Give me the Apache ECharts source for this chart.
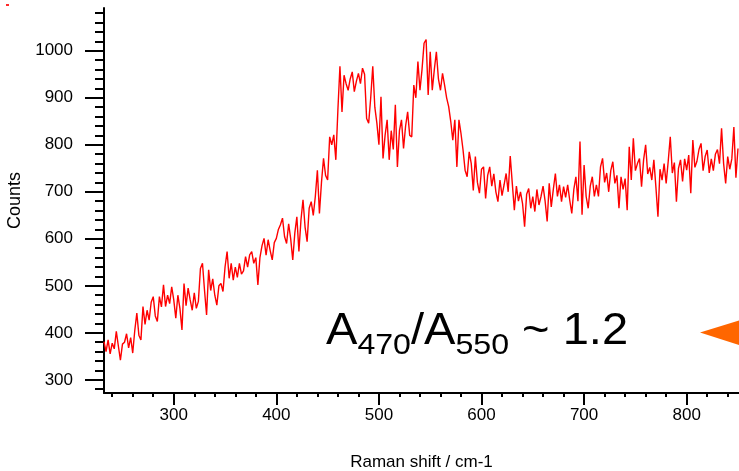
<!DOCTYPE html>
<html><head><meta charset="utf-8">
<script src="https://cdn.jsdelivr.net/npm/echarts@6/dist/echarts.min.js"></script>
<style>html,body{margin:0;padding:0;background:#fff}#c{width:739px;height:471px}</style>
</head><body><div id="c"></div>
<script>
const ramanShift = [
232,234,236,238,240,242,244,246,248,250,
252,254,256,258,260,262,264,266,268,270,
272,274,276,278,280,282,284,286,288,290,
292,294,296,298,300,302,304,306,308,310,
312,314,316,318,320,322,324,326,328,330,
332,334,336,338,340,342,344,346,348,350,
352,354,356,358,360,362,364,366,368,370,
372,374,376,378,380,382,384,386,388,390,
392,394,396,398,400,402,404,406,408,410,
412,414,416,418,420,422,424,426,428,430,
432,434,436,438,440,442,444,446,448,450,
452,454,456,458,460,462,464,466,468,470,
472,474,476,478,480,482,484,486,488,490,
492,494,496,498,500,502,504,506,508,510,
512,514,516,518,520,522,524,526,528,530,
532,534,536,538,540,542,544,546,548,550,
552,554,556,558,560,562,564,566,568,570,
572,574,576,578,580,582,584,586,588,590,
592,594,596,598,600,602,604,606,608,610,
612,614,616,618,620,622,624,626,628,630,
632,634,636,638,640,642,644,646,648,650,
652,654,656,658,660,662,664,666,668,670,
672,674,676,678,680,682,684,686,688,690,
692,694,696,698,700,702,704,706,708,710,
712,714,716,718,720,722,724,726,728,730,
732,734,736,738,740,742,744,746,748,750,
752,754,756,758,760,762,764,766,768,770,
772,774,776,778,780,782,784,786,788,790,
792,794,796,798,800,802,804,806,808,810,
812,814,816,818,820,822,824,826,828,830,
832,834,836,838,840,842,844,846,848,850
];
const counts = [
381,360,385,355,378,366,403,372,342,376,
380,398,368,390,357,405,442,395,385,456,
418,448,427,465,477,436,424,477,455,502,
456,480,462,498,470,431,480,452,406,505,
458,495,470,448,485,452,467,537,548,490,
438,534,490,515,480,459,500,505,488,540,
573,516,548,512,540,518,548,525,532,562,
540,566,573,548,560,502,560,585,601,565,
598,575,555,592,601,620,630,644,605,590,
632,600,555,612,647,573,640,683,625,594,
665,679,650,690,746,654,720,771,735,725,
817,800,821,768,874,967,870,948,930,916,
940,955,913,935,952,930,963,950,856,846,
900,967,880,846,800,902,771,820,853,768,
830,790,885,753,830,853,792,840,870,820,
817,927,900,977,916,960,1016,1024,906,998,
916,960,998,940,916,952,927,900,881,850,
810,853,753,853,824,789,746,732,785,760,
703,775,720,697,748,753,686,735,753,712,
738,700,679,725,692,715,739,700,776,718,
661,712,680,700,675,626,695,707,665,690,
658,705,672,690,712,680,637,718,668,705,
739,690,715,679,711,688,715,682,654,705,
732,680,807,651,757,690,665,712,732,690,
715,690,753,771,720,740,700,745,764,718,
735,665,732,705,728,661,796,725,814,745,
760,771,711,768,800,738,752,725,768,710,
647,748,725,760,718,765,817,740,762,679,
750,768,722,770,746,778,697,810,752,765,
790,803,745,775,789,740,770,745,780,790,
760,835,760,718,775,748,770,838,730,792
];
const xMajorTicks = [300,400,500,600,700,800];
const xMinorTicks = [240,260,280,300,320,340,360,380,400,420,440,460,480,500,520,540,560,580,600,620,640,660,680,700,720,740,760,780,800,820,840];
const yMajorTicks = [300,400,500,600,700,800,900,1000];
const yMinorTicks = [280,300,320,340,360,380,400,420,440,460,480,500,520,540,560,580,600,620,640,660,680,700,720,740,760,780,800,820,840,860,880,900,920,940,960,980,1000,1020,1040,1060,1080];
const xName = 'Raman shift / cm-1';
const yName = 'Counts';
const ratioParts = ['A', '470', '/A', '550', ' ~ 1.2'];

const FONT = 'Arial, "Liberation Sans", Helvetica, sans-serif';
const chart = echarts.init(document.getElementById('c'), null, {renderer: 'canvas'});
const gridRect = {left: 104, right: 0, top: 8, bottom: 78, containLabel: false, outerBoundsMode: 'none'};
const xRange = {min: 232, max: 851};
const yRange = {min: 272, max: 1091};

const mainSize = 44, subSize = 30, k = 0.31;
const adv = {A: 0.667, d: 0.556, slash: 0.278};
const p1 = adv.A * mainSize;
const p2 = p1 + 3 * adv.d * subSize;
const p3 = p2 + (adv.slash + adv.A) * mainSize;
const p4 = p3 + 3 * adv.d * subSize;
const mainY = 345 - k * mainSize, subY = 355 - k * subSize;
function txt(t, x, size, y) {
  return {type: 'text', x: x, y: y, style: {text: t, font: size + 'px ' + FONT, fill: '#000', align: 'left', verticalAlign: 'middle'}};
}

chart.setOption({
  animation: false,
  backgroundColor: '#fff',
  grid: [Object.assign({}, gridRect), Object.assign({}, gridRect)],
  xAxis: [
    Object.assign({type: 'value', gridIndex: 0,
      axisLine: {show: true, onZero: false, lineStyle: {color: '#000', width: 2}},
      axisTick: {show: true, customValues: xMajorTicks, length: 12, lineStyle: {color: '#000', width: 2}},
      axisLabel: {customValues: xMajorTicks, margin: 14, color: '#000', fontSize: 17, fontFamily: FONT, formatter: v => String(v)},
      splitLine: {show: false},
      name: xName, nameLocation: 'middle', nameGap: 61,
      nameTextStyle: {color: '#000', fontSize: 17, fontFamily: FONT}
    }, xRange),
    Object.assign({type: 'value', gridIndex: 1,
      axisLine: {show: false, onZero: false},
      axisTick: {show: true, customValues: xMinorTicks, length: 4, lineStyle: {color: '#000', width: 2}},
      axisLabel: {show: false},
      splitLine: {show: false}
    }, xRange)
  ],
  yAxis: [
    Object.assign({type: 'value', gridIndex: 0,
      axisLine: {show: true, onZero: false, lineStyle: {color: '#000', width: 2}},
      axisTick: {show: true, customValues: yMajorTicks, length: 19, lineStyle: {color: '#000', width: 2}},
      axisLabel: {customValues: yMajorTicks, margin: 31, color: '#000', fontSize: 17, fontFamily: FONT, formatter: v => String(v)},
      splitLine: {show: false},
      name: yName, nameLocation: 'middle', nameGap: 80, nameRotate: 90,
      nameTextStyle: {color: '#000', fontSize: 18, fontFamily: FONT}
    }, yRange),
    Object.assign({type: 'value', gridIndex: 1,
      axisLine: {show: false, onZero: false},
      axisTick: {show: true, customValues: yMinorTicks, length: 9, lineStyle: {color: '#000', width: 2}},
      axisLabel: {show: false},
      splitLine: {show: false}
    }, yRange)
  ],
  series: [{
    type: 'line', xAxisIndex: 0, yAxisIndex: 0,
    data: ramanShift.map((x, i) => [x, counts[i]]),
    showSymbol: false, symbol: 'none',
    lineStyle: {color: '#ff0000', width: 1.4},
    clip: true
  }],
  graphic: [
    {type: 'group', x: 326, y: 0, scaleX: 1.07, children: [
      txt(ratioParts[0], 0, mainSize, mainY),
      txt(ratioParts[1], p1, subSize, subY),
      txt(ratioParts[2], p2, mainSize, mainY),
      txt(ratioParts[3], p3, subSize, subY),
      txt(ratioParts[4], p4, mainSize, mainY)
    ]},
    {type: 'polygon', shape: {points: [[700, 332.5], [742, 319.5], [742, 346]]}, style: {fill: '#ff6600'}},
    {type: 'rect', shape: {x: 6, y: 4, width: 3, height: 2}, style: {fill: '#ff2a2a'}}
  ]
});
</script>
</body></html>
